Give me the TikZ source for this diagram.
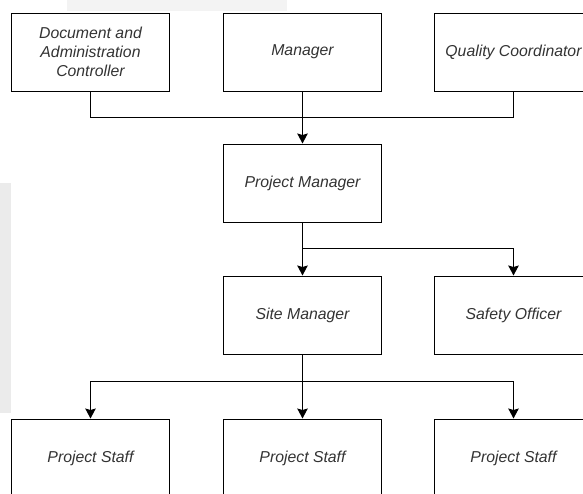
\documentclass[tikz,border=0pt]{standalone}
\usepackage{fontspec}
\setmainfont{Liberation Sans}
\usetikzlibrary{positioning}
\usetikzlibrary{arrows.meta}

\definecolor{textgray}{HTML}{333333}
\definecolor{shadeA}{HTML}{F3F3F3}
\definecolor{shadeB}{HTML}{EBEBEB}

\begin{document}
\begin{tikzpicture}[
        node distance = 52pt,
        role/.style = {draw, line width=1pt, minimum width=158pt, minimum height=78pt,
            align=center, text=textgray, font=\fontsize{15.8}{19}\selectfont\itshape},
        arr/.style = {line width=1pt, -{Stealth[length=10pt, width=10.5pt, inset=1.5pt]}}
    ]
    \useasboundingbox (0,0) rectangle (583pt,-493pt);
    \clip (0,0) rectangle (583pt,-493pt);
    % faint background shapes
    \fill[shadeA] (67pt,0) rectangle (287pt,-11pt);
    \fill[shadeB] (0,-183pt) rectangle (11pt,-413pt);

    \node[role] (doc) at (90.5pt,-52pt) {Document and\\Administration\\Controller};
    \node[role, right=53pt of doc] (mgr) {Manager};
    \node[role, right=of mgr] (qc) {Quality Coordinator};
    \node[role, below=of mgr] (pm) {Project Manager};
    \node[role, below=53pt of pm] (site) {Site Manager};
    \node[role, right=of site] (safety) {Safety Officer};
    \node[role, below=64pt of site] (staff2) {Project Staff};
    \node[role, left=53pt of staff2] (staff1) {Project Staff};
    \node[role, right=of staff2] (staff3) {Project Staff};

    \coordinate[below=26pt of doc.south] (join1);
    \coordinate[below=26pt of pm.south] (fork1);
    \coordinate[below=27pt of site.south] (fork2);

    \draw[line width=1pt] (doc.south) -- (join1) -| (qc.south);
    \draw[arr] (mgr.south) -- (pm.north);
    \draw[arr] (pm.south) -- (site.north);
    \draw[arr] (fork1) -| (safety.north);
    \draw[arr] (site.south) -- (staff2.north);
    \draw[arr] (fork2) -| (staff1.north);
    \draw[arr] (fork2) -| (staff3.north);
\end{tikzpicture}
\end{document}
